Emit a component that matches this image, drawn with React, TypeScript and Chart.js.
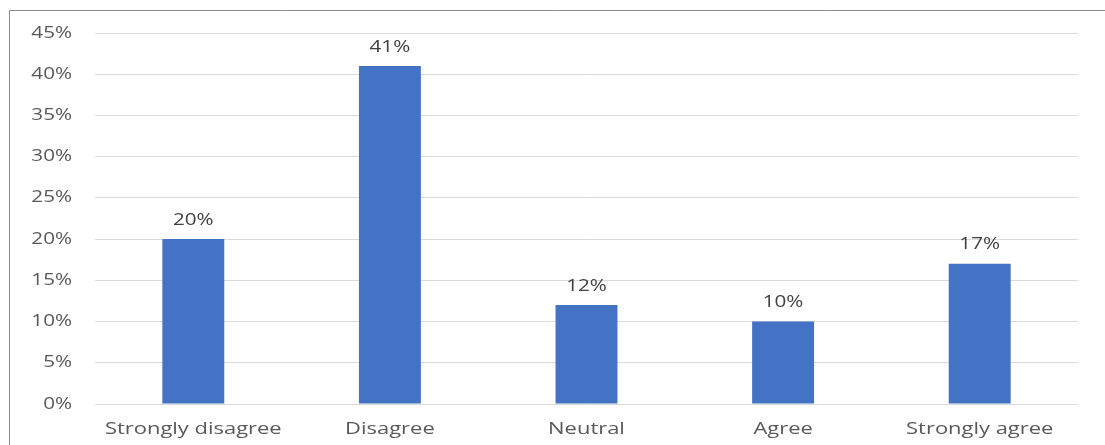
import React, { useEffect, useRef } from "react";
import { Chart, registerables } from "chart.js";

Chart.register(...registerables);

const categories = ["Strongly disagree", "Disagree", "Neutral", "Agree", "Strongly agree"];
const shares = [20, 41, 12, 10, 17];
const yTicks = [0, 5, 10, 15, 20, 25, 30, 35, 40, 45];

const FONT = "'Open Sans', 'Noto Sans', sans-serif";
// Text in this chart is set wide; glyphs are stretched horizontally by this factor.
const STRETCH = 1.29;

function wideText(ctx: CanvasRenderingContext2D, text: string, x: number, y: number, align: "center" | "right") {
  ctx.save();
  ctx.translate(x, y);
  ctx.scale(STRETCH, 1);
  ctx.textAlign = align;
  ctx.textBaseline = "middle";
  ctx.fillText(text, 0, 0);
  ctx.restore();
}

const textLayer = {
  id: "textLayer",
  afterDatasetsDraw(chart: any) {
    const ctx = chart.ctx as CanvasRenderingContext2D;
    const xs = chart.scales.x;
    const ys = chart.scales.y;
    const area = chart.chartArea;
    ctx.save();

    // value labels above bars
    ctx.font = `16px ${FONT}`;
    ctx.fillStyle = "#404040";
    chart.getDatasetMeta(0).data.forEach((bar: any, i: number) => {
      wideText(ctx, `${shares[i]}%`, bar.x, bar.y - 19, "center");
    });

    // y-axis tick labels
    ctx.font = `16px ${FONT}`;
    ctx.fillStyle = "#595959";
    yTicks.forEach((v) => {
      wideText(ctx, `${v}%`, area.left - 23, ys.getPixelForValue(v), "right");
    });

    // category labels
    ctx.font = `17px ${FONT}`;
    categories.forEach((c, i) => {
      wideText(ctx, c, xs.getPixelForValue(i), area.bottom + 25, "center");
    });

    ctx.restore();
  },
};

const frame = {
  id: "frame",
  beforeDraw(chart: any) {
    const ctx = chart.ctx;
    ctx.save();
    ctx.strokeStyle = "#8c8c8c";
    ctx.lineWidth = 1;
    ctx.beginPath();
    ctx.moveTo(9.5, chart.height);
    ctx.lineTo(9.5, 10.5);
    ctx.lineTo(chart.width, 10.5);
    ctx.stroke();
    ctx.restore();
  },
};

export default function App() {
  const canvasRef = useRef<HTMLCanvasElement>(null);

  useEffect(() => {
    const chart = new Chart(canvasRef.current!, {
      type: "bar",
      data: {
        labels: categories,
        datasets: [
          {
            data: shares,
            backgroundColor: "#4472C4",
            barPercentage: 0.315,
            categoryPercentage: 1,
          },
        ],
      },
      options: {
        animation: false,
        responsive: false,
        layout: { padding: { top: 33, right: 27, bottom: 0, left: 0 } },
        plugins: { legend: { display: false }, tooltip: { enabled: false } },
        scales: {
          x: {
            grid: { display: false, drawTicks: false },
            border: { display: false },
            ticks: { display: false },
            afterFit(scale: any) {
              scale.height = 41;
            },
          },
          y: {
            min: 0,
            max: 45,
            afterBuildTicks(scale: any) {
              scale.ticks = yTicks.map((v) => ({ value: v }));
            },
            grid: { color: "#d9d9d9", drawTicks: false },
            border: { display: false },
            ticks: { display: false },
            afterFit(scale: any) {
              scale.width = 95;
            },
          },
        },
      },
      plugins: [frame, textLayer],
    });
    return () => chart.destroy();
  }, []);

  return (
    <div style={{ position: "absolute", left: 0, top: 0, width: 1105, height: 445, background: "#fff" }}>
      <canvas ref={canvasRef} width={1105} height={445} />
    </div>
  );
}
